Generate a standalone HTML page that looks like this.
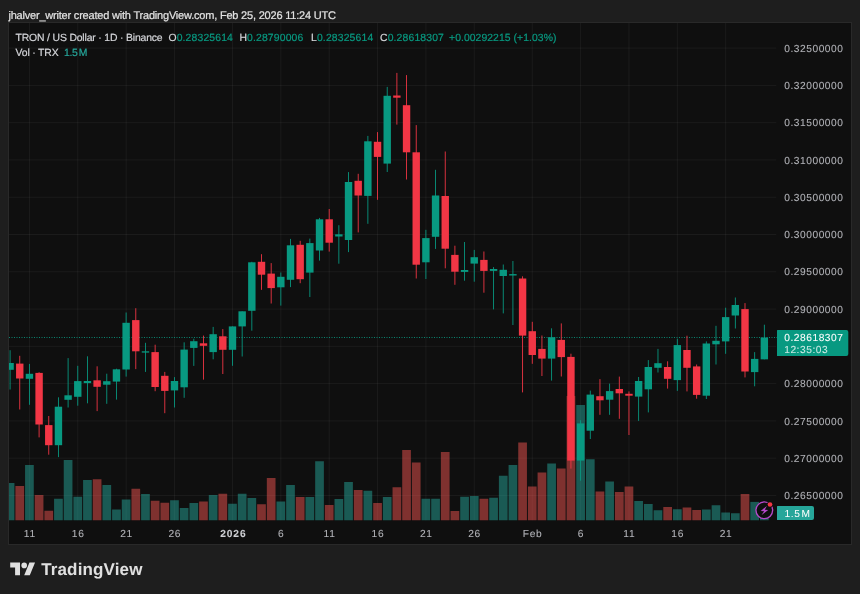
<!DOCTYPE html>
<html><head><meta charset="utf-8"><title>TRON / US Dollar</title>
<style>
html,body{margin:0;padding:0;}
body{width:860px;height:594px;background:#1e1e1e;position:relative;overflow:hidden;font-family:"Liberation Sans",sans-serif;text-rendering:geometricPrecision;}
.chart{position:absolute;left:8px;top:22px;width:842px;height:520.5px;border:1px solid #292929;background:#0f0f0f;}
.t{position:absolute;white-space:pre;line-height:13px;height:13px;-webkit-text-stroke:0.2px currentColor;}
.hd{font-size:11px;color:#e2e2e2;letter-spacing:-0.2px;}
.lg{font-size:10.4px;color:#d5d6da;letter-spacing:0.15px;}
.tx{letter-spacing:-0.16px;}
.gr{color:#089981;}
.ax{font-size:10.2px;color:#b3b4b9;letter-spacing:0.55px;-webkit-text-stroke:0.08px currentColor;}
.tm{width:40px;text-align:center;letter-spacing:0.7px;}
.tm b{color:#cfd0d4;letter-spacing:0.9px;margin-right:-0.9px;}
.logo{font-size:17px;font-weight:bold;color:#e0e0e0;line-height:20px;height:20px;letter-spacing:0.14px;-webkit-text-stroke:0;}
</style></head><body>
<div class="chart"></div>
<svg width="860" height="594" viewBox="0 0 860 594" style="position:absolute;left:0;top:0">
<defs><clipPath id="pane"><rect x="9" y="23" width="767.3" height="497.5"/></clipPath></defs>
<g><rect x="9" y="47.60" width="767.3" height="1" fill="rgba(255,255,255,0.052)"/><rect x="9" y="84.88" width="767.3" height="1" fill="rgba(255,255,255,0.052)"/><rect x="9" y="122.16" width="767.3" height="1" fill="rgba(255,255,255,0.052)"/><rect x="9" y="159.44" width="767.3" height="1" fill="rgba(255,255,255,0.052)"/><rect x="9" y="196.72" width="767.3" height="1" fill="rgba(255,255,255,0.052)"/><rect x="9" y="234.00" width="767.3" height="1" fill="rgba(255,255,255,0.052)"/><rect x="9" y="271.28" width="767.3" height="1" fill="rgba(255,255,255,0.052)"/><rect x="9" y="308.56" width="767.3" height="1" fill="rgba(255,255,255,0.052)"/><rect x="9" y="345.84" width="767.3" height="1" fill="rgba(255,255,255,0.052)"/><rect x="9" y="383.12" width="767.3" height="1" fill="rgba(255,255,255,0.052)"/><rect x="9" y="420.40" width="767.3" height="1" fill="rgba(255,255,255,0.052)"/><rect x="9" y="457.68" width="767.3" height="1" fill="rgba(255,255,255,0.052)"/><rect x="9" y="494.96" width="767.3" height="1" fill="rgba(255,255,255,0.052)"/><rect x="28.92" y="23" width="1" height="497.5" fill="rgba(255,255,255,0.052)"/><rect x="77.27" y="23" width="1" height="497.5" fill="rgba(255,255,255,0.052)"/><rect x="125.62" y="23" width="1" height="497.5" fill="rgba(255,255,255,0.052)"/><rect x="173.97" y="23" width="1" height="497.5" fill="rgba(255,255,255,0.052)"/><rect x="231.99" y="23" width="1" height="497.5" fill="rgba(255,255,255,0.052)"/><rect x="280.34" y="23" width="1" height="497.5" fill="rgba(255,255,255,0.052)"/><rect x="328.69" y="23" width="1" height="497.5" fill="rgba(255,255,255,0.052)"/><rect x="377.04" y="23" width="1" height="497.5" fill="rgba(255,255,255,0.052)"/><rect x="425.39" y="23" width="1" height="497.5" fill="rgba(255,255,255,0.052)"/><rect x="473.74" y="23" width="1" height="497.5" fill="rgba(255,255,255,0.052)"/><rect x="531.76" y="23" width="1" height="497.5" fill="rgba(255,255,255,0.052)"/><rect x="580.11" y="23" width="1" height="497.5" fill="rgba(255,255,255,0.052)"/><rect x="628.46" y="23" width="1" height="497.5" fill="rgba(255,255,255,0.052)"/><rect x="676.81" y="23" width="1" height="497.5" fill="rgba(255,255,255,0.052)"/><rect x="725.16" y="23" width="1" height="497.5" fill="rgba(255,255,255,0.052)"/></g>
<g clip-path="url(#pane)"><rect x="5.73" y="483.00" width="8.70" height="37.50" fill="rgba(38,166,154,0.5)"/><rect x="15.40" y="486.00" width="8.70" height="34.50" fill="rgba(239,83,80,0.5)"/><rect x="25.07" y="465.00" width="8.70" height="55.50" fill="rgba(38,166,154,0.5)"/><rect x="34.74" y="495.00" width="8.70" height="25.50" fill="rgba(239,83,80,0.5)"/><rect x="44.41" y="510.75" width="8.70" height="9.75" fill="rgba(239,83,80,0.5)"/><rect x="54.08" y="498.75" width="8.70" height="21.75" fill="rgba(38,166,154,0.5)"/><rect x="63.75" y="460.00" width="8.70" height="60.50" fill="rgba(38,166,154,0.5)"/><rect x="73.42" y="496.75" width="8.70" height="23.75" fill="rgba(38,166,154,0.5)"/><rect x="83.09" y="480.00" width="8.70" height="40.50" fill="rgba(38,166,154,0.5)"/><rect x="92.76" y="479.25" width="8.70" height="41.25" fill="rgba(239,83,80,0.5)"/><rect x="102.43" y="485.00" width="8.70" height="35.50" fill="rgba(38,166,154,0.5)"/><rect x="112.10" y="509.50" width="8.70" height="11.00" fill="rgba(38,166,154,0.5)"/><rect x="121.77" y="499.50" width="8.70" height="21.00" fill="rgba(38,166,154,0.5)"/><rect x="131.44" y="488.75" width="8.70" height="31.75" fill="rgba(239,83,80,0.5)"/><rect x="141.11" y="494.00" width="8.70" height="26.50" fill="rgba(38,166,154,0.5)"/><rect x="150.78" y="500.75" width="8.70" height="19.75" fill="rgba(239,83,80,0.5)"/><rect x="160.45" y="502.75" width="8.70" height="17.75" fill="rgba(239,83,80,0.5)"/><rect x="170.12" y="500.25" width="8.70" height="20.25" fill="rgba(38,166,154,0.5)"/><rect x="179.79" y="508.00" width="8.70" height="12.50" fill="rgba(38,166,154,0.5)"/><rect x="189.46" y="503.00" width="8.70" height="17.50" fill="rgba(38,166,154,0.5)"/><rect x="199.13" y="501.50" width="8.70" height="19.00" fill="rgba(239,83,80,0.5)"/><rect x="208.80" y="495.00" width="8.70" height="25.50" fill="rgba(38,166,154,0.5)"/><rect x="218.47" y="493.75" width="8.70" height="26.75" fill="rgba(239,83,80,0.5)"/><rect x="228.14" y="503.75" width="8.70" height="16.75" fill="rgba(38,166,154,0.5)"/><rect x="237.81" y="493.75" width="8.70" height="26.75" fill="rgba(38,166,154,0.5)"/><rect x="247.48" y="498.00" width="8.70" height="22.50" fill="rgba(38,166,154,0.5)"/><rect x="257.15" y="504.25" width="8.70" height="16.25" fill="rgba(239,83,80,0.5)"/><rect x="266.82" y="478.00" width="8.70" height="42.50" fill="rgba(239,83,80,0.5)"/><rect x="276.49" y="501.50" width="8.70" height="19.00" fill="rgba(38,166,154,0.5)"/><rect x="286.16" y="485.00" width="8.70" height="35.50" fill="rgba(38,166,154,0.5)"/><rect x="295.83" y="497.00" width="8.70" height="23.50" fill="rgba(239,83,80,0.5)"/><rect x="305.50" y="497.00" width="8.70" height="23.50" fill="rgba(38,166,154,0.5)"/><rect x="315.17" y="461.25" width="8.70" height="59.25" fill="rgba(38,166,154,0.5)"/><rect x="324.84" y="505.00" width="8.70" height="15.50" fill="rgba(239,83,80,0.5)"/><rect x="334.51" y="499.00" width="8.70" height="21.50" fill="rgba(38,166,154,0.5)"/><rect x="344.18" y="482.00" width="8.70" height="38.50" fill="rgba(38,166,154,0.5)"/><rect x="353.85" y="490.00" width="8.70" height="30.50" fill="rgba(239,83,80,0.5)"/><rect x="363.52" y="490.75" width="8.70" height="29.75" fill="rgba(38,166,154,0.5)"/><rect x="373.19" y="503.00" width="8.70" height="17.50" fill="rgba(239,83,80,0.5)"/><rect x="382.86" y="497.00" width="8.70" height="23.50" fill="rgba(38,166,154,0.5)"/><rect x="392.53" y="487.25" width="8.70" height="33.25" fill="rgba(239,83,80,0.5)"/><rect x="402.20" y="450.00" width="8.70" height="70.50" fill="rgba(239,83,80,0.5)"/><rect x="411.87" y="462.50" width="8.70" height="58.00" fill="rgba(239,83,80,0.5)"/><rect x="421.54" y="498.75" width="8.70" height="21.75" fill="rgba(38,166,154,0.5)"/><rect x="431.21" y="498.75" width="8.70" height="21.75" fill="rgba(38,166,154,0.5)"/><rect x="440.88" y="452.00" width="8.70" height="68.50" fill="rgba(239,83,80,0.5)"/><rect x="450.55" y="511.00" width="8.70" height="9.50" fill="rgba(239,83,80,0.5)"/><rect x="460.22" y="496.75" width="8.70" height="23.75" fill="rgba(38,166,154,0.5)"/><rect x="469.89" y="496.00" width="8.70" height="24.50" fill="rgba(38,166,154,0.5)"/><rect x="479.56" y="498.75" width="8.70" height="21.75" fill="rgba(239,83,80,0.5)"/><rect x="489.23" y="497.75" width="8.70" height="22.75" fill="rgba(38,166,154,0.5)"/><rect x="498.90" y="475.75" width="8.70" height="44.75" fill="rgba(38,166,154,0.5)"/><rect x="508.57" y="465.00" width="8.70" height="55.50" fill="rgba(38,166,154,0.5)"/><rect x="518.24" y="442.50" width="8.70" height="78.00" fill="rgba(239,83,80,0.5)"/><rect x="527.91" y="486.50" width="8.70" height="34.00" fill="rgba(239,83,80,0.5)"/><rect x="537.58" y="472.50" width="8.70" height="48.00" fill="rgba(239,83,80,0.5)"/><rect x="547.25" y="463.50" width="8.70" height="57.00" fill="rgba(38,166,154,0.5)"/><rect x="556.92" y="468.50" width="8.70" height="52.00" fill="rgba(239,83,80,0.5)"/><rect x="566.59" y="396.00" width="8.70" height="124.50" fill="rgba(239,83,80,0.5)"/><rect x="576.26" y="405.00" width="8.70" height="115.50" fill="rgba(38,166,154,0.5)"/><rect x="585.93" y="459.25" width="8.70" height="61.25" fill="rgba(38,166,154,0.5)"/><rect x="595.60" y="491.50" width="8.70" height="29.00" fill="rgba(239,83,80,0.5)"/><rect x="605.27" y="481.50" width="8.70" height="39.00" fill="rgba(38,166,154,0.5)"/><rect x="614.94" y="492.00" width="8.70" height="28.50" fill="rgba(239,83,80,0.5)"/><rect x="624.61" y="486.50" width="8.70" height="34.00" fill="rgba(239,83,80,0.5)"/><rect x="634.28" y="501.00" width="8.70" height="19.50" fill="rgba(38,166,154,0.5)"/><rect x="643.95" y="504.00" width="8.70" height="16.50" fill="rgba(38,166,154,0.5)"/><rect x="653.62" y="510.25" width="8.70" height="10.25" fill="rgba(38,166,154,0.5)"/><rect x="663.29" y="507.00" width="8.70" height="13.50" fill="rgba(239,83,80,0.5)"/><rect x="672.96" y="509.25" width="8.70" height="11.25" fill="rgba(38,166,154,0.5)"/><rect x="682.63" y="507.50" width="8.70" height="13.00" fill="rgba(239,83,80,0.5)"/><rect x="692.30" y="510.00" width="8.70" height="10.50" fill="rgba(239,83,80,0.5)"/><rect x="701.97" y="509.50" width="8.70" height="11.00" fill="rgba(38,166,154,0.5)"/><rect x="711.64" y="505.25" width="8.70" height="15.25" fill="rgba(38,166,154,0.5)"/><rect x="721.31" y="512.50" width="8.70" height="8.00" fill="rgba(38,166,154,0.5)"/><rect x="730.98" y="513.25" width="8.70" height="7.25" fill="rgba(38,166,154,0.5)"/><rect x="740.65" y="494.00" width="8.70" height="26.50" fill="rgba(239,83,80,0.5)"/><rect x="750.32" y="501.90" width="8.70" height="18.60" fill="rgba(38,166,154,0.5)"/><rect x="759.99" y="513.00" width="8.70" height="7.50" fill="rgba(38,166,154,0.5)"/></g>
<line x1="9" y1="337.5" x2="777" y2="337.5" stroke="#089981" stroke-width="1" stroke-dasharray="1 1.5" opacity="0.85"/>
<g clip-path="url(#pane)"><rect x="9.64" y="350.20" width="0.88" height="39.30" fill="#089981"/><rect x="6.38" y="363.00" width="7.4" height="6.80" fill="#089981"/><rect x="19.31" y="355.80" width="0.88" height="53.70" fill="#f23645"/><rect x="16.05" y="363.60" width="7.4" height="14.90" fill="#f23645"/><rect x="28.98" y="363.90" width="0.88" height="40.90" fill="#089981"/><rect x="25.72" y="373.80" width="7.4" height="5.00" fill="#089981"/><rect x="38.65" y="372.20" width="0.88" height="65.20" fill="#f23645"/><rect x="35.39" y="372.90" width="7.4" height="51.60" fill="#f23645"/><rect x="48.32" y="416.00" width="0.88" height="38.70" fill="#f23645"/><rect x="45.06" y="425.10" width="7.4" height="20.10" fill="#f23645"/><rect x="57.99" y="397.30" width="0.88" height="59.80" fill="#089981"/><rect x="54.73" y="406.70" width="7.4" height="38.50" fill="#089981"/><rect x="67.66" y="358.10" width="0.88" height="49.40" fill="#089981"/><rect x="64.40" y="395.30" width="7.4" height="4.50" fill="#089981"/><rect x="77.33" y="365.80" width="0.88" height="39.90" fill="#089981"/><rect x="74.07" y="381.10" width="7.4" height="15.70" fill="#089981"/><rect x="87.00" y="356.30" width="0.88" height="47.00" fill="#089981"/><rect x="83.74" y="381.00" width="7.4" height="2.10" fill="#089981"/><rect x="96.67" y="366.30" width="0.88" height="44.80" fill="#f23645"/><rect x="93.41" y="380.30" width="7.4" height="6.50" fill="#f23645"/><rect x="106.34" y="373.70" width="0.88" height="30.10" fill="#089981"/><rect x="103.08" y="381.20" width="7.4" height="3.50" fill="#089981"/><rect x="116.01" y="368.70" width="0.88" height="30.90" fill="#089981"/><rect x="112.75" y="369.30" width="7.4" height="12.30" fill="#089981"/><rect x="125.68" y="312.50" width="0.88" height="64.10" fill="#089981"/><rect x="122.42" y="322.80" width="7.4" height="46.70" fill="#089981"/><rect x="135.35" y="308.20" width="0.88" height="60.90" fill="#f23645"/><rect x="132.09" y="320.10" width="7.4" height="31.20" fill="#f23645"/><rect x="145.02" y="342.80" width="0.88" height="29.10" fill="#089981"/><rect x="141.76" y="351.30" width="7.4" height="1.30" fill="#089981"/><rect x="154.69" y="344.70" width="0.88" height="46.50" fill="#f23645"/><rect x="151.43" y="352.10" width="7.4" height="34.90" fill="#f23645"/><rect x="164.36" y="371.90" width="0.88" height="41.30" fill="#f23645"/><rect x="161.10" y="375.80" width="7.4" height="15.10" fill="#f23645"/><rect x="174.03" y="377.10" width="0.88" height="30.40" fill="#089981"/><rect x="170.77" y="381.00" width="7.4" height="9.40" fill="#089981"/><rect x="183.70" y="342.30" width="0.88" height="55.50" fill="#089981"/><rect x="180.44" y="349.60" width="7.4" height="37.70" fill="#089981"/><rect x="193.37" y="338.70" width="0.88" height="27.20" fill="#089981"/><rect x="190.11" y="341.20" width="7.4" height="6.70" fill="#089981"/><rect x="203.04" y="335.60" width="0.88" height="44.00" fill="#f23645"/><rect x="199.78" y="343.30" width="7.4" height="2.50" fill="#f23645"/><rect x="212.71" y="326.90" width="0.88" height="32.40" fill="#089981"/><rect x="209.45" y="334.20" width="7.4" height="17.90" fill="#089981"/><rect x="222.38" y="329.10" width="0.88" height="44.90" fill="#f23645"/><rect x="219.12" y="336.30" width="7.4" height="13.50" fill="#f23645"/><rect x="232.05" y="326.40" width="0.88" height="39.40" fill="#089981"/><rect x="228.79" y="326.40" width="7.4" height="23.40" fill="#089981"/><rect x="241.72" y="311.30" width="0.88" height="45.20" fill="#089981"/><rect x="238.46" y="311.30" width="7.4" height="15.10" fill="#089981"/><rect x="251.39" y="261.80" width="0.88" height="68.90" fill="#089981"/><rect x="248.13" y="262.30" width="7.4" height="48.50" fill="#089981"/><rect x="261.06" y="254.20" width="0.88" height="35.60" fill="#f23645"/><rect x="257.80" y="261.80" width="7.4" height="12.90" fill="#f23645"/><rect x="270.73" y="263.10" width="0.88" height="40.40" fill="#f23645"/><rect x="267.47" y="273.60" width="7.4" height="14.50" fill="#f23645"/><rect x="280.40" y="272.50" width="0.88" height="33.10" fill="#089981"/><rect x="277.14" y="276.80" width="7.4" height="10.50" fill="#089981"/><rect x="290.07" y="238.90" width="0.88" height="48.20" fill="#089981"/><rect x="286.81" y="245.30" width="7.4" height="34.50" fill="#089981"/><rect x="299.74" y="240.80" width="0.88" height="42.40" fill="#f23645"/><rect x="296.48" y="244.80" width="7.4" height="34.40" fill="#f23645"/><rect x="309.41" y="238.60" width="0.88" height="58.40" fill="#089981"/><rect x="306.15" y="243.10" width="7.4" height="29.50" fill="#089981"/><rect x="319.08" y="217.90" width="0.88" height="42.70" fill="#089981"/><rect x="315.82" y="219.30" width="7.4" height="31.20" fill="#089981"/><rect x="328.75" y="209.00" width="0.88" height="42.60" fill="#f23645"/><rect x="325.49" y="219.30" width="7.4" height="23.40" fill="#f23645"/><rect x="338.42" y="225.20" width="0.88" height="38.50" fill="#089981"/><rect x="335.16" y="234.30" width="7.4" height="2.20" fill="#089981"/><rect x="348.09" y="172.10" width="0.88" height="80.00" fill="#089981"/><rect x="344.83" y="182.00" width="7.4" height="58.00" fill="#089981"/><rect x="357.76" y="173.80" width="0.88" height="58.60" fill="#f23645"/><rect x="354.50" y="180.80" width="7.4" height="14.70" fill="#f23645"/><rect x="367.43" y="135.90" width="0.88" height="87.90" fill="#089981"/><rect x="364.17" y="141.30" width="7.4" height="54.60" fill="#089981"/><rect x="377.10" y="132.10" width="0.88" height="67.70" fill="#f23645"/><rect x="373.84" y="141.80" width="7.4" height="15.10" fill="#f23645"/><rect x="386.77" y="86.90" width="0.88" height="85.10" fill="#089981"/><rect x="383.51" y="95.80" width="7.4" height="67.80" fill="#089981"/><rect x="396.44" y="72.90" width="0.88" height="51.70" fill="#f23645"/><rect x="393.18" y="95.50" width="7.4" height="2.20" fill="#f23645"/><rect x="406.11" y="75.10" width="0.88" height="104.40" fill="#f23645"/><rect x="402.85" y="105.20" width="7.4" height="47.10" fill="#f23645"/><rect x="415.78" y="125.10" width="0.88" height="153.40" fill="#f23645"/><rect x="412.52" y="152.30" width="7.4" height="112.40" fill="#f23645"/><rect x="425.45" y="229.80" width="0.88" height="49.20" fill="#089981"/><rect x="422.19" y="238.10" width="7.4" height="24.20" fill="#089981"/><rect x="435.12" y="169.80" width="0.88" height="79.10" fill="#089981"/><rect x="431.86" y="195.50" width="7.4" height="41.30" fill="#089981"/><rect x="444.79" y="151.50" width="0.88" height="116.80" fill="#f23645"/><rect x="441.53" y="196.00" width="7.4" height="52.70" fill="#f23645"/><rect x="454.46" y="245.70" width="0.88" height="39.10" fill="#f23645"/><rect x="451.20" y="254.90" width="7.4" height="16.80" fill="#f23645"/><rect x="464.13" y="242.00" width="0.88" height="38.70" fill="#089981"/><rect x="460.87" y="270.00" width="7.4" height="1.90" fill="#089981"/><rect x="473.80" y="249.90" width="0.88" height="31.80" fill="#089981"/><rect x="470.54" y="257.20" width="7.4" height="6.40" fill="#089981"/><rect x="483.47" y="251.50" width="0.88" height="41.20" fill="#f23645"/><rect x="480.21" y="259.90" width="7.4" height="11.00" fill="#f23645"/><rect x="493.14" y="267.10" width="0.88" height="42.30" fill="#089981"/><rect x="489.88" y="269.00" width="7.4" height="1.90" fill="#089981"/><rect x="502.81" y="264.50" width="0.88" height="48.90" fill="#089981"/><rect x="499.55" y="269.80" width="7.4" height="6.20" fill="#089981"/><rect x="512.48" y="261.00" width="0.88" height="64.00" fill="#089981"/><rect x="509.22" y="274.10" width="7.4" height="1.40" fill="#089981"/><rect x="522.15" y="276.30" width="0.88" height="116.10" fill="#f23645"/><rect x="518.89" y="278.50" width="7.4" height="57.10" fill="#f23645"/><rect x="531.82" y="321.80" width="0.88" height="42.00" fill="#f23645"/><rect x="528.56" y="331.20" width="7.4" height="23.80" fill="#f23645"/><rect x="541.49" y="335.50" width="0.88" height="40.50" fill="#f23645"/><rect x="538.23" y="348.90" width="7.4" height="9.70" fill="#f23645"/><rect x="551.16" y="328.30" width="0.88" height="52.30" fill="#089981"/><rect x="547.90" y="337.20" width="7.4" height="21.40" fill="#089981"/><rect x="560.83" y="323.40" width="0.88" height="53.10" fill="#f23645"/><rect x="557.57" y="339.90" width="7.4" height="17.20" fill="#f23645"/><rect x="570.50" y="353.70" width="0.88" height="114.90" fill="#f23645"/><rect x="567.24" y="356.90" width="7.4" height="103.70" fill="#f23645"/><rect x="580.17" y="420.20" width="0.88" height="60.50" fill="#089981"/><rect x="576.91" y="423.40" width="7.4" height="37.20" fill="#089981"/><rect x="589.84" y="390.60" width="0.88" height="48.40" fill="#089981"/><rect x="586.58" y="394.60" width="7.4" height="36.10" fill="#089981"/><rect x="599.51" y="379.10" width="0.88" height="35.70" fill="#f23645"/><rect x="596.25" y="396.20" width="7.4" height="4.10" fill="#f23645"/><rect x="609.18" y="383.60" width="0.88" height="31.20" fill="#089981"/><rect x="605.92" y="391.10" width="7.4" height="8.60" fill="#089981"/><rect x="618.85" y="376.60" width="0.88" height="42.20" fill="#f23645"/><rect x="615.59" y="389.00" width="7.4" height="4.30" fill="#f23645"/><rect x="628.52" y="391.40" width="0.88" height="43.60" fill="#f23645"/><rect x="625.26" y="393.80" width="7.4" height="1.90" fill="#f23645"/><rect x="638.19" y="377.00" width="0.88" height="43.90" fill="#089981"/><rect x="634.93" y="381.00" width="7.4" height="15.60" fill="#089981"/><rect x="647.86" y="360.10" width="0.88" height="52.30" fill="#089981"/><rect x="644.60" y="367.00" width="7.4" height="22.30" fill="#089981"/><rect x="657.53" y="348.90" width="0.88" height="23.60" fill="#089981"/><rect x="654.27" y="363.20" width="7.4" height="4.60" fill="#089981"/><rect x="667.20" y="361.30" width="0.88" height="27.30" fill="#f23645"/><rect x="663.94" y="367.00" width="7.4" height="11.80" fill="#f23645"/><rect x="676.87" y="338.70" width="0.88" height="52.20" fill="#089981"/><rect x="673.61" y="345.10" width="7.4" height="35.00" fill="#089981"/><rect x="686.54" y="335.70" width="0.88" height="55.70" fill="#f23645"/><rect x="683.28" y="350.00" width="7.4" height="17.80" fill="#f23645"/><rect x="696.21" y="364.50" width="0.88" height="34.20" fill="#f23645"/><rect x="692.95" y="366.40" width="7.4" height="28.50" fill="#f23645"/><rect x="705.88" y="341.40" width="0.88" height="57.60" fill="#089981"/><rect x="702.62" y="343.50" width="7.4" height="52.20" fill="#089981"/><rect x="715.55" y="325.80" width="0.88" height="38.70" fill="#089981"/><rect x="712.29" y="340.80" width="7.4" height="3.50" fill="#089981"/><rect x="725.22" y="307.70" width="0.88" height="46.10" fill="#089981"/><rect x="721.96" y="317.10" width="7.4" height="24.30" fill="#089981"/><rect x="734.89" y="297.50" width="0.88" height="31.00" fill="#089981"/><rect x="731.63" y="305.00" width="7.4" height="10.50" fill="#089981"/><rect x="744.56" y="303.10" width="0.88" height="74.30" fill="#f23645"/><rect x="741.30" y="309.10" width="7.4" height="62.40" fill="#f23645"/><rect x="754.23" y="352.10" width="0.88" height="34.20" fill="#089981"/><rect x="750.97" y="358.90" width="7.4" height="13.20" fill="#089981"/><rect x="763.90" y="324.70" width="0.88" height="34.65" fill="#089981"/><rect x="760.64" y="337.50" width="7.4" height="21.85" fill="#089981"/></g>
<path d="M777.5 330 H846.3 a2 2 0 0 1 2 2 V354 a2 2 0 0 1 -2 2 H777.5 a0.5 0.5 0 0 1 -0.5 -0.5 V330.5 a0.5 0.5 0 0 1 0.5 -0.5 Z" fill="#089981"/>
<path d="M777.5 506 H812 a2 2 0 0 1 2 2 V518 a2 2 0 0 1 -2 2 H777.5 a0.5 0.5 0 0 1 -0.5 -0.5 V506.5 a0.5 0.5 0 0 1 0.5 -0.5 Z" fill="#26a69a"/>
<g><circle cx="764.3" cy="510.3" r="8.35" fill="#0f0f0f" stroke="#b548c9" stroke-width="1.35"/><path d="M766.9 506 L760.7 510.9 L764.1 511.2 L761.6 515 L768.2 510 L764.8 509.7 Z" fill="#b548c9"/><circle cx="770" cy="504.5" r="3.1" fill="#0f0f0f"/><circle cx="770" cy="504.5" r="2.35" fill="#f23645"/></g>
<g transform="translate(10.2,559.8) scale(0.7)" fill="#e0e0e0"><path d="M14 22H7V11H0V4h14v18zM28 22h-8l7.5-18h8L28 22z"/><circle cx="20" cy="8" r="4"/></g>
</svg>
<div class="t hd" style="left:8.4px;top:10.2px;">jhalver_writer created with TradingView.com, Feb 25, 2026 11:24 UTC</div>
<div class="t lg tx" style="left:15.6px;top:32px;">TRON / US Dollar · 1D · Binance</div>
<div class="t lg" style="left:168.4px;top:32px;">O<span class="gr">0.28325614</span></div>
<div class="t lg" style="left:239.4px;top:32px;">H<span class="gr">0.28790006</span></div>
<div class="t lg" style="left:311px;top:32px;">L<span class="gr">0.28325614</span></div>
<div class="t lg" style="left:380px;top:32px;">C<span class="gr">0.28618307</span></div>
<div class="t lg gr" style="left:449px;top:32px;letter-spacing:0.06px;">+0.00292215 (+1.03%)</div>
<div class="t lg tx" style="left:15.6px;top:46.7px;">Vol · TRX</div>
<div class="t lg" style="left:64px;top:46.7px;color:#26a69a;letter-spacing:-0.3px;">1.5<span style="display:inline-block;width:1.2px"> </span>M</div>
<div class="t ax" style="left:784.2px;top:332px;color:#fff;">0.28618307</div>
<div class="t ax" style="left:784.2px;top:343.7px;color:rgba(255,255,255,0.76);">12:35:03</div>
<div class="t ax" style="left:784.6px;top:507.5px;color:#fff;word-spacing:-2.4px;-webkit-text-stroke:0;">1.5 M</div>
<div class="t logo" style="left:41.2px;top:560px;">TradingView</div>
<div class="t ax" style="left:784.2px;top:42.7px;">0.32500000</div>
<div class="t ax" style="left:784.2px;top:79.98px;">0.32000000</div>
<div class="t ax" style="left:784.2px;top:117.26px;">0.31500000</div>
<div class="t ax" style="left:784.2px;top:154.54px;">0.31000000</div>
<div class="t ax" style="left:784.2px;top:191.82px;">0.30500000</div>
<div class="t ax" style="left:784.2px;top:229.1px;">0.30000000</div>
<div class="t ax" style="left:784.2px;top:266.38px;">0.29500000</div>
<div class="t ax" style="left:784.2px;top:303.66px;">0.29000000</div>
<div class="t ax" style="left:784.2px;top:378.22px;">0.28000000</div>
<div class="t ax" style="left:784.2px;top:415.5px;">0.27500000</div>
<div class="t ax" style="left:784.2px;top:452.78px;">0.27000000</div>
<div class="t ax" style="left:784.2px;top:490.06px;">0.26500000</div>
<div class="t ax tm" style="left:9.82px;top:528px;">11</div>
<div class="t ax tm" style="left:58.17px;top:528px;">16</div>
<div class="t ax tm" style="left:106.52px;top:528px;">21</div>
<div class="t ax tm" style="left:154.87px;top:528px;">26</div>
<div class="t ax tm" style="left:212.89px;top:528px;"><b>2026</b></div>
<div class="t ax tm" style="left:261.24px;top:528px;">6</div>
<div class="t ax tm" style="left:309.59px;top:528px;">11</div>
<div class="t ax tm" style="left:357.94px;top:528px;">16</div>
<div class="t ax tm" style="left:406.29px;top:528px;">21</div>
<div class="t ax tm" style="left:454.64px;top:528px;">26</div>
<div class="t ax tm" style="left:512.66px;top:528px;">Feb</div>
<div class="t ax tm" style="left:561.01px;top:528px;">6</div>
<div class="t ax tm" style="left:609.36px;top:528px;">11</div>
<div class="t ax tm" style="left:657.71px;top:528px;">16</div>
<div class="t ax tm" style="left:706.06px;top:528px;">21</div>
</body></html>
